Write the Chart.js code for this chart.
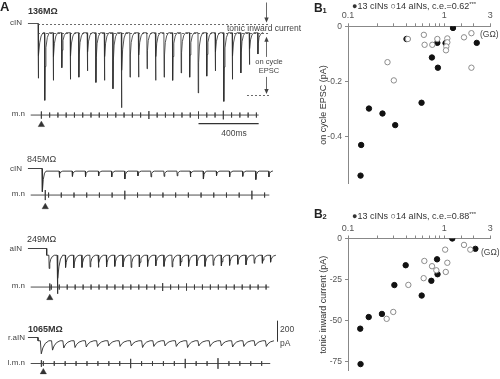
<!DOCTYPE html>
<html><head><meta charset="utf-8">
<script src="https://cdn.jsdelivr.net/npm/chart.js@4.4.1/dist/chart.umd.min.js"></script>
<style>
html,body{margin:0;padding:0;background:#fff}
#wrap{position:relative;width:500px;height:379px;overflow:hidden;font-family:"Liberation Sans",Arial,Helvetica,sans-serif;color:#333}
canvas{position:absolute}
.t{position:absolute;white-space:nowrap;line-height:1}
</style></head><body><div id="wrap">
<canvas id="tr1" width="300" height="112" style="left:0;top:0"></canvas>
<canvas id="mn1" width="300" height="32" style="left:0;top:103px"></canvas>
<canvas id="tr2" width="300" height="50" style="left:0;top:150px"></canvas>
<canvas id="mn2" width="300" height="32" style="left:0;top:183px"></canvas>
<canvas id="tr3" width="300" height="62" style="left:0;top:238px"></canvas>
<canvas id="mn3" width="300" height="32" style="left:0;top:275px"></canvas>
<canvas id="tr4" width="300" height="55" style="left:0;top:315px"></canvas>
<canvas id="mn4" width="300" height="27" style="left:0;top:352px"></canvas>
<canvas id="b1" width="200" height="192" style="left:300px;top:0"></canvas>
<canvas id="b2" width="200" height="167" style="left:300px;top:212px"></canvas>
</div>
<script>
// ================= DATA =================
// Panel B: input resistance (GΩ) vs. current
const X_TICK_VALUES = [0.1, 1, 3];
const X_TICK_LABELS = ['0.1', '1', '3'];
const B1_Y_TICKS = [0, -0.2, -0.4];
const B1_Y_LABELS = ['0', '-0.2', '-0.4'];
const B2_Y_TICKS = [0, -25, -50, -75];
const B2_Y_LABELS = ['0', '-25', '-50', '-75'];

const B1_CIN_R    = [1.23, 0.405, 0.846, 1.03, 2.17, 0.743, 0.857, 0.58, 0.165, 0.228, 0.309, 0.137, 0.135];
const B1_CIN_EPSC = [-0.006, -0.046, -0.060, -0.061, -0.060, -0.113, -0.150, -0.277, -0.298, -0.316, -0.358, -0.430, -0.541];
const B1_AIN_R    = [0.613, 0.846, 1.074, 1.074, 1.049, 1.04, 0.75, 0.624, 1.60, 1.91, 1.91, 0.418, 0.257, 0.299];
const B1_AIN_EPSC = [-0.031, -0.046, -0.044, -0.058, -0.073, -0.087, -0.067, -0.067, -0.040, -0.025, -0.150, -0.046, -0.130, -0.196];

const B2_CIN_R     = [1.21, 2.10, 0.84, 0.397, 0.85, 0.733, 0.303, 0.582, 0.225, 0.164, 0.134, 0.135];
const B2_CIN_TONIC = [0, -6.3, -12.7, -16.3, -21.8, -25.8, -28.4, -34.8, -46, -47.9, -55, -76.6];
const B2_AIN_R     = [1.02, 1.60, 1.86, 0.62, 0.745, 0.826, 1.074, 1.035, 0.61, 0.423, 0.295, 0.252];
const B2_AIN_TONIC = [-6.8, -3.9, -6.8, -13.7, -16.9, -19.4, -14.8, -20.4, -24.2, -28.3, -44.8, -49];

// Panel A: recordings (time in ms, current in pA)
const TRACE1 = {hold: 0, tonic: -88, stim: 0, transient: -520, firstTick: 55, period: 55, delay: -13, end: 1452};
const TRACE1_PEAKS = [-730,-540,-420,-530,-510,-450,-560,-540,-620,-800,-510,-510,-430,-540,-510,-540,-470,-510,-660,-500,-450,-740,-530,-470,-390,-290];
const TRACE2 = {hold: 0, tonic: -25, stim: 26, transient: -220, firstTick: 132.5, period: 84.5, delay: 3, end: 1516};
const TRACE2_PEAKS = [-85,-75,-80,-70,-80,-100,-70,-80,-75,-70,-80,-100,-70,-80,-75,-105,-80];
const TRACE3 = {hold: 0, tonic: -64, stim: 56, firstTick: 66, period: 52.9, delay: 4, end: 1534};
const TRACE3_PEAKS = [-190,-430,-180,-185,-180,-175,-180,-175,-170,-175,-180,-175,-170,-165,-170,-175,-165,-170,-165,-170,-160,-165,-160,-150,-155,-140,-140,-130];
const TRACE4 = {hold: 0, tonic: -31, stim: 0, firstTick: 13, period: 72.6, delay: 2, end: 1522};
const TRACE4_PEAKS = [-155,-120,-100,-95,-90,-85,-80,-85,-80,-95,-85,-80,-85,-95,-80,-85,-80,-90,-85,-80,-85];
const TRACE1_EPSC_LEVEL = -680;

// motor nerve bursts (tick heights, a.u.)
const MN1 = {stim: 0, stimH: 5, firstTick: 55, period: 55, end: 1445};
const MN1_TICK_H = [3.5,3.5,3.5,3.5,3.5,3.5,3.5,3.5,3.5,3.5,3.5,3.5,5.5,3.5,3.5,3.5,3.5,3.5,5,3.5,3.5,6,3.5,3.5,3.5,3.5];
const MN2 = {stim: 26, stimH: 7, firstTick: 48, period: 84.5, end: 1516};
const MN2_TICK_H = [3.5,3.5,3.5,3.5,3.5,3.5,6,3.5,3.5,3.5,3.5,3.5,3.5,3.5,3.5,3.5,6,3.5];
const MN3 = {stim: 56, stimH: 5, firstTick: 66, period: 52.9, end: 1516};
const MN3_TICK_H = [3.5,3.5,3.5,3.5,3.5,3.5,3.5,3.5,3.5,3.5,3.5,3.5,3.5,3.5,5.5,3.5,3.5,5,3.5,3.5,3.5,3.5,3.5,3.5,3.5,3.5,3.5,3.5];
const MN4 = {stim: 0, stimH: 5, firstTick: 13, period: 72.6, end: 1522};
const MN4_TICK_H = [3.5,3.5,3.5,3.5,3.5,3.5,3.5,3.5,7,3.5,3.5,3.5,3.5,7,3.5,3.5,8,3.5,3.5,3.5,3.5];

const SCALE_MS = 400, SCALE_PA = 200;

// ================= LAYOUT / STYLE =================
const FONT = '"Liberation Sans", Arial, Helvetica, sans-serif';
Chart.defaults.font.family = FONT;
const T_MIN = -245.2, T_MAX = 1690;     // time range across 300px
const PA_PER_PX = 9.5;
const HOLD_START = -65, MN_START = -71;
const TRACE_COLOR = '#2b2b2b';

// EPSC waveform shapes [dt ms, fraction of peak]
const SHAPE_FAST = [[0,0],[1.5,1],[4,0.5],[9,0.22],[18,0.07],[30,0]];
const SHAPE_SMALL = [[0,0],[2,1],[6,0.4],[14,0.1],[24,0]];
const SHAPE_A = [[0,0],[2,1],[6,0.6],[12,0.3],[22,0.1],[36,0]];
const SHAPE_SLOW = [[0,0],[6,1],[16,0.55],[32,0.2],[55,0]];

function buildTrace(tr, peaks, shape) {
  const pts = [{x: HOLD_START, y: tr.hold}, {x: tr.stim, y: tr.hold}, {x: tr.stim, y: tr.tonic}];
  const ev = [];
  if (tr.transient !== undefined) ev.push({t: tr.stim + 2, a: tr.transient});
  peaks.forEach((a, i) => ev.push({t: tr.firstTick + tr.period * i + tr.delay, a}));
  ev.forEach(e => shape.forEach(([dt, f]) => pts.push({x: e.t + dt, y: tr.tonic + (e.a - tr.tonic) * f})));
  pts.push({x: tr.end, y: tr.tonic});
  return pts;
}
function buildMN(mn, heights) {
  const pts = [{x: MN_START, y: 0}];
  const add = (t, h) => pts.push({x: t, y: 0}, {x: t, y: h}, {x: t, y: -h}, {x: t, y: 0});
  add(mn.stim, mn.stimH);
  heights.forEach((h, k) => add(mn.firstTick + mn.period * k, h));
  pts.push({x: mn.end, y: 0});
  return pts;
}

function lineChart(id, zeroPx, unitPerPx, datasets, plugins) {
  const c = document.getElementById(id);
  const h = c.height;
  return new Chart(c, {
    type: 'line',
    data: {datasets},
    options: {
      responsive: false, animation: false, devicePixelRatio: 1, events: [],
      layout: {padding: 0},
      plugins: {legend: {display: false}, tooltip: {enabled: false}},
      scales: {
        x: {type: 'linear', min: T_MIN, max: T_MAX, display: false},
        y: {type: 'linear', min: -(h - zeroPx) * unitPerPx, max: zeroPx * unitPerPx, display: false}
      },
      elements: {point: {radius: 0}, line: {tension: 0}}
    },
    plugins: plugins || []
  });
}
const traceDS = (pts, w) => ({data: pts, borderColor: TRACE_COLOR, borderWidth: w || 0.9, pointRadius: 0, fill: false, borderJoinStyle: 'round'});
const mnDS = (pts) => ({data: pts, borderColor: '#3a3a3a', borderWidth: 0.9, pointRadius: 0, fill: false});
const triDS = (t, y) => ({data: [{x: t, y}], showLine: false, pointRadius: 3.6, pointStyle: 'triangle', pointBackgroundColor: '#333', pointBorderColor: '#333', pointBorderWidth: 0.5});

// annotation plugin for trace 1
const tr1Ann = {
  id: 'tr1Ann',
  afterDatasetsDraw(chart) {
    const {ctx, scales: {x, y}} = chart;
    ctx.save();
    ctx.strokeStyle = '#444'; ctx.fillStyle = '#444'; ctx.lineWidth = 0.8;
    ctx.setLineDash([2, 2]);
    const hline = (t0, t1, v) => { const py = Math.round(y.getPixelForValue(v)) + 0.5; ctx.beginPath(); ctx.moveTo(x.getPixelForValue(t0), py); ctx.lineTo(x.getPixelForValue(t1), py); ctx.stroke(); };
    hline(0, 1496, TRACE1.hold);
    hline(0, 1496, TRACE1.tonic);
    hline(1348, 1496, TRACE1_EPSC_LEVEL);
    ctx.setLineDash([]);
    const ax = Math.round(x.getPixelForValue(1471)) + 0.5;
    const y0 = y.getPixelForValue(TRACE1.hold), yT = y.getPixelForValue(TRACE1.tonic), yE = y.getPixelForValue(TRACE1_EPSC_LEVEL);
    const vline = (a, b) => { ctx.beginPath(); ctx.moveTo(ax, a); ctx.lineTo(ax, b); ctx.stroke(); };
    const head = (tip, dir) => { ctx.beginPath(); ctx.moveTo(ax, tip); ctx.lineTo(ax - 2.2, tip - 5 * dir); ctx.lineTo(ax + 2.2, tip - 5 * dir); ctx.closePath(); ctx.fill(); };
    vline(y0 - 21, y0 - 4); head(y0 - 1, 1);
    // double arrow, interrupted where the "on cycle EPSC" label sits
    const mid = (yT + yE) / 2;
    vline(yT + 8, mid - 7); vline(mid + 13, yE - 5);
    head(yT + 4, -1); head(yE - 1, 1);
    ctx.restore();
  }
};
const scaleBarMs = {
  id: 'sbms',
  afterDatasetsDraw(chart) {
    const {ctx, scales: {x, y}} = chart;
    ctx.save(); ctx.strokeStyle = '#333'; ctx.lineWidth = 1.4;
    const py = y.getPixelForValue(-12);
    ctx.beginPath(); ctx.moveTo(x.getPixelForValue(1045), py); ctx.lineTo(x.getPixelForValue(1045 + SCALE_MS), py); ctx.stroke();
    ctx.restore();
  }
};
const scaleBarPa = {
  id: 'sbpa',
  afterDatasetsDraw(chart) {
    const {ctx, scales: {x, y}} = chart;
    ctx.save(); ctx.strokeStyle = '#333'; ctx.lineWidth = 1;
    const px = Math.round(x.getPixelForValue(1543)) + 0.5;
    ctx.beginPath(); ctx.moveTo(px, y.getPixelForValue(160)); ctx.lineTo(px, y.getPixelForValue(160 - SCALE_PA)); ctx.stroke();
    ctx.restore();
  }
};

// traces
lineChart('tr1', 23.5, PA_PER_PX, [traceDS(buildTrace(TRACE1, TRACE1_PEAKS, SHAPE_FAST), 0.8)], [tr1Ann]);
lineChart('mn1', 10.5, 1, [mnDS(buildMN(MN1, MN1_TICK_H)), triDS(MN1.stim, -13.5)], [scaleBarMs]);
lineChart('tr2', 18.5, PA_PER_PX, [traceDS(buildTrace(TRACE2, TRACE2_PEAKS, SHAPE_SMALL))]);
lineChart('mn2', 10.5, 1, [mnDS(buildMN(MN2, MN2_TICK_H)), triDS(MN2.stim, -16.5)]);
lineChart('tr3', 10.5, PA_PER_PX, [traceDS(buildTrace(TRACE3, TRACE3_PEAKS, SHAPE_A))]);
lineChart('mn3', 10.5, 1, [mnDS(buildMN(MN3, MN3_TICK_H)), triDS(MN3.stim, -15)]);
lineChart('tr4', 22.5, PA_PER_PX, [traceDS(buildTrace(TRACE4, TRACE4_PEAKS, SHAPE_SLOW))], [scaleBarPa]);
lineChart('mn4', 10.5, 1, [mnDS(buildMN(MN4, MN4_TICK_H)), triDS(MN4.firstTick, -13)]);

// scatter panels
function scatterPanel(id, cinX, cinY, ainX, ainY, yMin, yTicks, yLabels, yTitle, axisTop) {
  return new Chart(document.getElementById(id), {
    type: 'scatter',
    data: {datasets: [
      {label: 'aINs', data: ainX.map((x, i) => ({x, y: ainY[i]})), pointRadius: 2.7, pointBackgroundColor: '#fff', pointBorderColor: '#8c8c8c', pointBorderWidth: 1},
      {label: 'cINs', data: cinX.map((x, i) => ({x, y: cinY[i]})), pointRadius: 2.7, pointBackgroundColor: '#111', pointBorderColor: '#111', pointBorderWidth: 1}
    ]},
    options: {
      responsive: false, animation: false, devicePixelRatio: 1, events: [],
      layout: {padding: {left: 0, right: 9.7, top: 0, bottom: 0}},
      plugins: {legend: {display: false}, tooltip: {enabled: false}},
      scales: {
        x: {type: 'logarithmic', position: 'top', min: 0.1, max: 3,
          border: {display: true, color: '#888', width: 1},
          grid: {display: true, drawOnChartArea: false, drawTicks: true, tickLength: 3, color: '#888'},
          ticks: {autoSkip: false, maxRotation: 0, minRotation: 0, padding: 2, color: '#555', font: {size: 9, family: FONT},
            callback: (v) => { const m = X_TICK_VALUES.findIndex(t => Math.abs(t - v) < 1e-9); return m >= 0 ? X_TICK_LABELS[m] : ''; }},
          afterFit: (s) => { s.height = axisTop; }
        },
        y: {type: 'linear', min: yMin, max: 0,
          border: {display: true, color: '#888', width: 1},
          grid: {display: true, drawOnChartArea: false, drawTicks: true, tickLength: 3, color: '#888'},
          afterBuildTicks: (s) => { s.ticks = yTicks.map(v => ({value: v})); },
          ticks: {padding: 3, color: '#555', font: {size: 8.5, family: FONT},
            callback: (v) => { const i = yTicks.indexOf(v); return i >= 0 ? yLabels[i] : ''; }},
          title: {display: true, text: yTitle, color: '#333', font: {size: 9, family: FONT}, padding: {top: 18, bottom: 0}},
          afterFit: (s) => { s.width = 48; }
        }
      }
    }
  });
}
scatterPanel('b1', B1_CIN_R, B1_CIN_EPSC, B1_AIN_R, B1_AIN_EPSC, -0.571, B1_Y_TICKS, B1_Y_LABELS, 'on cycle EPSC (pA)', 26.3);
scatterPanel('b2', B2_CIN_R, B2_CIN_TONIC, B2_AIN_R, B2_AIN_TONIC, -80.75, B2_Y_TICKS, B2_Y_LABELS, 'tonic inward current (pA)', 26.5);

// ================= TEXT =================
const wrap = document.getElementById('wrap');
function txt(html, x, y, fs, o) {
  o = o || {};
  const d = document.createElement('div');
  d.className = 't'; d.innerHTML = html;
  d.style.fontSize = fs + 'px';
  if (o.bold) d.style.fontWeight = 'bold';
  d.style.color = o.color || '#333';
  let tx = '0';
  if (o.align === 'right') tx = '-100%'; else if (o.align === 'center') tx = '-50%';
  d.style.left = x + 'px'; d.style.top = y + 'px';
  d.style.transform = `translate(${tx},-50%)`;
  wrap.appendChild(d);
}
txt('A', 0, 6, 13, {bold: true, color: '#222'});
txt('136MΩ', 28, 11, 9, {bold: true});
txt('cIN', 22, 23, 8, {align: 'right', color: '#444'});
txt('tonic inward current', 227, 27.5, 8.5, {color: '#444'});
txt('on cycle', 269, 61.5, 7.5, {align: 'center', color: '#444'});
txt('EPSC', 269, 71, 7.5, {align: 'center', color: '#444'});
txt('m.n', 25, 113.5, 8, {align: 'right', color: '#444'});
txt('400ms', 234, 133, 8.5, {align: 'center', color: '#444'});
txt('845MΩ', 27, 158.5, 9, {color: '#444'});
txt('cIN', 22, 168.5, 8, {align: 'right', color: '#444'});
txt('m.n', 25, 193.5, 8, {align: 'right', color: '#444'});
txt('249MΩ', 27, 238.5, 9, {color: '#333'});
txt('aIN', 22, 248.5, 8, {align: 'right', color: '#444'});
txt('m.n', 25, 285.5, 8, {align: 'right', color: '#444'});
txt('1065MΩ', 28, 328.5, 9, {bold: true});
txt('r.aIN', 25, 337.5, 8, {align: 'right', color: '#444'});
txt('l.m.n', 25, 362.5, 8, {align: 'right', color: '#444'});
txt('200', 280, 329, 8.5, {color: '#444'});
txt('pA', 280, 343, 8.5, {color: '#444'});

txt('B', 314, 8, 12, {bold: true, color: '#222'});
txt('1', 322.5, 11, 7.5, {bold: true, color: '#222'});
txt('●13 cINs ○14 aINs, c.e.=0.62<sup style="font-size:6px;vertical-align:3px">***</sup>', 352, 5.5, 9, {color: '#333'});
txt('(GΩ)', 480, 34, 8.5, {color: '#444'});
txt('B', 314, 214, 12, {bold: true, color: '#222'});
txt('2', 322.5, 217, 7.5, {bold: true, color: '#222'});
txt('●13 cINs ○14 aINs, c.e.=0.88<sup style="font-size:6px;vertical-align:3px">***</sup>', 352, 215.5, 9, {color: '#333'});
txt('(GΩ)', 481, 251.5, 8.5, {color: '#444'});
</script>
</body></html>
